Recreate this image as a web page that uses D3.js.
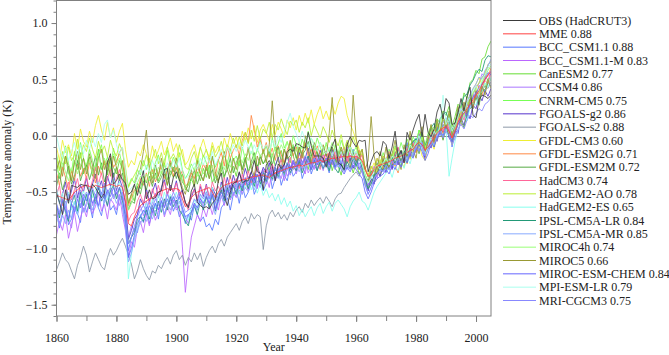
<!DOCTYPE html>
<html><head><meta charset="utf-8">
<script src="https://cdn.jsdelivr.net/npm/d3@7"></script>
<style>
body{margin:0;background:#fff;}
svg{display:block;}
</style></head>
<body><svg id="c" width="669" height="355"></svg>
<script>
const years = d3.range(1860, 2006);
const yTickValues = [-1.5, -1.0, -0.5, 0.0, 0.5, 1.0];
const xTickValues = [1860, 1880, 1900, 1920, 1940, 1960, 1980, 2000];

const obs = [
-0.51,-0.59,-0.70,-0.48,-0.60,-0.44,-0.45,-0.46,-0.43,-0.44,
-0.44,-0.51,-0.43,-0.46,-0.51,-0.55,-0.51,-0.24,-0.16,-0.43,
-0.40,-0.34,-0.39,-0.42,-0.52,-0.50,-0.43,-0.53,-0.42,-0.31,
-0.56,-0.48,-0.56,-0.55,-0.50,-0.49,-0.30,-0.29,-0.49,-0.37,
-0.32,-0.39,-0.49,-0.59,-0.64,-0.49,-0.43,-0.59,-0.62,-0.64,
-0.63,-0.65,-0.60,-0.57,-0.40,-0.33,-0.53,-0.62,-0.50,-0.42,
-0.41,-0.32,-0.42,-0.40,-0.40,-0.33,-0.22,-0.32,-0.33,-0.48,
-0.26,-0.22,-0.27,-0.40,-0.25,-0.29,-0.26,-0.14,-0.12,-0.14,
-0.07,-0.08,-0.10,-0.11,0.03,-0.09,-0.18,-0.18,-0.18,-0.20,
-0.28,-0.16,-0.09,-0.03,-0.24,-0.26,-0.30,-0.08,-0.01,-0.06,
-0.10,-0.04,-0.05,-0.04,-0.32,-0.23,-0.16,-0.14,-0.18,-0.05,
-0.08,-0.20,-0.10,0.04,-0.19,-0.13,-0.24,0.03,-0.04,0.05,
0.13,0.19,-0.01,0.19,0.03,-0.01,0.06,0.21,0.28,0.15,
0.33,0.29,0.10,0.11,0.20,0.33,0.22,0.35,0.43,0.18,
0.16,0.32,0.36,0.35,0.33,0.36];

const mme = [
-0.53,-0.54,-0.55,-0.56,-0.57,-0.54,-0.5,-0.48,-0.46,-0.45,
-0.44,-0.45,-0.46,-0.44,-0.45,-0.46,-0.45,-0.44,-0.43,-0.44,
-0.45,-0.44,-0.46,-0.58,-0.78,-0.8,-0.72,-0.66,-0.62,-0.6,
-0.58,-0.56,-0.55,-0.53,-0.5,-0.49,-0.48,-0.47,-0.48,-0.47,
-0.47,-0.48,-0.56,-0.63,-0.6,-0.55,-0.52,-0.5,-0.49,-0.48,
-0.47,-0.46,-0.5,-0.55,-0.5,-0.46,-0.44,-0.43,-0.42,-0.41,
-0.41,-0.4,-0.39,-0.39,-0.38,-0.37,-0.36,-0.36,-0.35,-0.35,
-0.36,-0.37,-0.35,-0.33,-0.32,-0.31,-0.3,-0.29,-0.28,-0.28,
-0.27,-0.26,-0.27,-0.26,-0.25,-0.24,-0.24,-0.23,-0.22,-0.23,
-0.22,-0.21,-0.2,-0.2,-0.19,-0.19,-0.18,-0.19,-0.18,-0.19,
-0.18,-0.2,-0.22,-0.3,-0.36,-0.35,-0.3,-0.27,-0.26,-0.25,
-0.24,-0.23,-0.22,-0.2,-0.19,-0.18,-0.17,-0.15,-0.13,-0.12,
-0.08,-0.06,-0.08,-0.13,-0.1,-0.06,-0.02,0.02,0.05,0.07,
0.08,0.04,-0.02,0.04,0.12,0.17,0.2,0.24,0.28,0.32,
0.36,0.4,0.45,0.5,0.54,0.57];

const bccCsm11 = [
-0.66,-0.82,-0.7,-0.61,-0.79,-0.74,-0.58,-0.69,-0.77,-0.55,
-0.68,-0.6,-0.73,-0.52,-0.64,-0.71,-0.57,-0.49,-0.66,-0.62,
-0.7,-0.55,-0.62,-0.8,-1.02,-0.9,-0.82,-0.86,-0.7,-0.77,
-0.63,-0.78,-0.69,-0.6,-0.74,-0.58,-0.7,-0.62,-0.55,-0.67,
-0.6,-0.72,-0.66,-0.78,-0.7,-0.75,-0.62,-0.7,-0.76,-0.72,
-0.81,-0.78,-0.84,-0.74,-0.79,-0.64,-0.6,-0.55,-0.66,-0.52,
-0.48,-0.6,-0.44,-0.55,-0.5,-0.38,-0.52,-0.45,-0.36,-0.49,
-0.42,-0.3,-0.47,-0.38,-0.29,-0.44,-0.35,-0.4,-0.27,-0.36,
-0.32,-0.22,-0.38,-0.3,-0.18,-0.34,-0.26,-0.31,-0.2,-0.29,
-0.24,-0.33,-0.18,-0.28,-0.14,-0.26,-0.3,-0.19,-0.23,-0.12,
-0.25,-0.17,-0.28,-0.42,-0.46,-0.33,-0.38,-0.24,-0.31,-0.2,
-0.29,-0.16,-0.25,-0.2,-0.11,-0.24,-0.18,-0.06,-0.17,-0.1,
-0.02,-0.13,-0.07,-0.19,-0.09,0.03,-0.06,0.08,0.0,0.1,
0.04,0.12,-0.1,0.03,0.14,0.1,0.22,0.15,0.28,0.24,
0.36,0.28,0.43,0.39,0.47,0.44];

const bccCsm11M = [
-0.88,-0.76,-0.84,-0.7,-0.91,-0.79,-0.68,-0.85,-0.73,-0.64,
-0.72,-0.58,-0.69,-0.63,-0.5,-0.67,-0.61,-0.74,-0.56,-0.6,
-0.66,-0.52,-0.7,-0.84,-1.08,-0.94,-0.99,-0.82,-0.76,-0.86,
-0.7,-0.8,-0.64,-0.75,-0.68,-0.58,-0.72,-0.63,-0.7,-0.57,
-0.66,-0.62,-0.98,-1.39,-1.12,-0.9,-0.8,-0.7,-0.76,-0.64,
-0.72,-0.6,-0.7,-0.58,-0.66,-0.53,-0.62,-0.48,-0.57,-0.51,
-0.55,-0.44,-0.52,-0.4,-0.49,-0.43,-0.36,-0.47,-0.34,-0.42,
-0.37,-0.46,-0.3,-0.39,-0.33,-0.26,-0.4,-0.29,-0.35,-0.24,
-0.31,-0.2,-0.28,-0.34,-0.19,-0.25,-0.3,-0.16,-0.27,-0.21,
-0.14,-0.26,-0.2,-0.12,-0.24,-0.17,-0.28,-0.1,-0.21,-0.16,
-0.22,-0.13,-0.3,-0.38,-0.44,-0.34,-0.27,-0.36,-0.22,-0.3,
-0.24,-0.17,-0.29,-0.19,-0.12,-0.23,-0.1,-0.2,-0.13,-0.05,
-0.1,0.02,-0.07,-0.15,-0.03,0.06,-0.02,0.09,0.03,0.13,
0.08,0.17,-0.03,0.06,0.12,0.23,0.17,0.28,0.24,0.36,
0.34,0.45,0.41,0.53,0.49,0.58];

const canEsm2 = [
-0.24,-0.38,-0.29,-0.18,-0.33,-0.4,-0.22,-0.3,-0.15,-0.34,
-0.26,-0.19,-0.36,-0.27,-0.12,-0.3,-0.23,-0.35,-0.2,-0.28,
-0.34,-0.22,-0.3,-0.44,-0.6,-0.52,-0.58,-0.42,-0.47,-0.36,
-0.42,-0.3,-0.38,-0.27,-0.4,-0.33,-0.24,-0.39,-0.31,-0.37,
-0.28,-0.4,-0.34,-0.48,-0.44,-0.38,-0.45,-0.32,-0.4,-0.29,
-0.37,-0.26,-0.42,-0.35,-0.4,-0.3,-0.38,-0.24,-0.33,-0.27,
-0.36,-0.22,-0.3,-0.19,-0.33,-0.26,-0.2,-0.31,-0.17,-0.25,
-0.21,-0.32,-0.16,-0.27,-0.2,-0.13,-0.26,-0.18,-0.24,-0.1,
-0.19,-0.27,-0.13,-0.22,-0.3,-0.17,-0.24,-0.12,-0.28,-0.2,
-0.25,-0.16,-0.31,-0.22,-0.27,-0.35,-0.2,-0.29,-0.23,-0.33,
-0.24,-0.34,-0.28,-0.44,-0.47,-0.39,-0.42,-0.31,-0.36,-0.26,
-0.3,-0.22,-0.28,-0.17,-0.24,-0.13,-0.2,-0.08,-0.15,-0.04,
-0.08,0.05,-0.02,-0.1,0.0,0.09,0.03,0.15,0.11,0.22,
0.18,0.26,0.08,0.17,0.28,0.24,0.38,0.33,0.47,0.5,
0.58,0.55,0.68,0.7,0.79,0.84];

const ccsm4 = [
-0.64,-0.78,-0.69,-0.58,-0.74,-0.82,-0.63,-0.7,-0.55,-0.67,
-0.6,-0.48,-0.62,-0.55,-0.44,-0.58,-0.52,-0.63,-0.46,-0.56,
-0.5,-0.62,-0.54,-0.68,-0.9,-0.8,-0.84,-0.7,-0.62,-0.71,
-0.58,-0.68,-0.6,-0.51,-0.66,-0.57,-0.63,-0.5,-0.61,-0.55,
-0.62,-0.52,-0.66,-0.72,-0.78,-0.68,-0.6,-0.66,-0.55,-0.63,
-0.52,-0.6,-0.48,-0.64,-0.55,-0.46,-0.58,-0.5,-0.44,-0.53,
-0.41,-0.52,-0.45,-0.37,-0.48,-0.4,-0.33,-0.45,-0.38,-0.3,
-0.43,-0.35,-0.28,-0.4,-0.32,-0.38,-0.26,-0.36,-0.3,-0.22,
-0.34,-0.25,-0.3,-0.21,-0.33,-0.27,-0.19,-0.29,-0.23,-0.31,
-0.2,-0.28,-0.16,-0.25,-0.21,-0.13,-0.27,-0.22,-0.17,-0.24,
-0.18,-0.27,-0.33,-0.41,-0.44,-0.36,-0.3,-0.38,-0.25,-0.29,
-0.22,-0.3,-0.19,-0.25,-0.14,-0.22,-0.15,-0.09,-0.18,-0.06,
-0.07,0.01,-0.05,-0.13,-0.02,0.06,-0.01,0.1,0.06,0.14,
0.1,0.16,0.0,0.11,0.2,0.17,0.29,0.26,0.37,0.35,
0.44,0.46,0.55,0.52,0.63,0.66];

const cnrmCm5 = [
-0.16,-0.3,-0.21,-0.09,-0.25,-0.33,-0.14,-0.24,-0.06,-0.2,
-0.28,-0.12,-0.22,-0.31,-0.16,-0.08,-0.26,-0.19,-0.3,-0.11,
-0.23,-0.15,-0.27,-0.36,-0.45,-0.38,-0.42,-0.3,-0.35,-0.22,
-0.3,-0.2,-0.34,-0.24,-0.17,-0.3,-0.22,-0.13,-0.28,-0.19,
-0.26,-0.15,-0.3,-0.38,-0.33,-0.25,-0.31,-0.2,-0.28,-0.17,
-0.24,-0.33,-0.19,-0.28,-0.21,-0.3,-0.16,-0.25,-0.12,-0.22,
-0.18,-0.27,-0.1,-0.21,-0.15,-0.06,-0.2,-0.13,-0.04,-0.16,
-0.09,-0.19,-0.02,-0.14,-0.07,0.02,-0.11,-0.05,-0.15,0.0,
-0.08,-0.16,-0.03,-0.11,0.04,-0.07,-0.13,-0.02,-0.1,-0.18,
-0.06,-0.14,-0.22,-0.08,-0.16,-0.04,-0.12,-0.2,-0.09,-0.15,
-0.1,-0.2,-0.16,-0.3,-0.37,-0.27,-0.32,-0.21,-0.26,-0.15,
-0.23,-0.12,-0.19,-0.09,-0.17,-0.06,-0.14,-0.03,-0.11,-0.01,
-0.06,0.05,-0.03,-0.08,0.02,0.08,-0.01,0.12,0.05,0.16,
0.12,0.19,0.02,0.08,0.17,0.13,0.26,0.21,0.33,0.28,
0.4,0.36,0.47,0.43,0.51,0.5];

const fgoalsG2 = [
-0.47,-0.6,-0.52,-0.41,-0.58,-0.49,-0.38,-0.55,-0.44,-0.5,
-0.37,-0.52,-0.43,-0.34,-0.48,-0.4,-0.53,-0.36,-0.45,-0.33,
-0.49,-0.38,-0.46,-0.6,-0.92,-0.84,-0.74,-0.7,-0.56,-0.62,
-0.47,-0.58,-0.5,-0.42,-0.55,-0.46,-0.39,-0.52,-0.44,-0.5,
-0.4,-0.53,-0.48,-0.6,-0.63,-0.55,-0.47,-0.58,-0.45,-0.54,
-0.43,-0.56,-0.46,-0.52,-0.58,-0.41,-0.5,-0.37,-0.48,-0.35,
-0.44,-0.33,-0.41,-0.29,-0.38,-0.32,-0.4,-0.26,-0.36,-0.28,
-0.33,-0.24,-0.36,-0.27,-0.19,-0.32,-0.25,-0.17,-0.3,-0.22,
-0.27,-0.15,-0.24,-0.2,-0.11,-0.26,-0.18,-0.23,-0.13,-0.21,
-0.16,-0.25,-0.12,-0.22,-0.18,-0.27,-0.14,-0.24,-0.2,-0.29,
-0.21,-0.3,-0.25,-0.4,-0.49,-0.38,-0.43,-0.3,-0.36,-0.26,
-0.33,-0.22,-0.3,-0.17,-0.26,-0.14,-0.24,-0.12,-0.2,-0.08,
-0.14,-0.03,-0.1,-0.2,-0.06,-0.11,0.02,-0.05,0.07,0.03,
0.1,-0.02,-0.06,0.05,0.02,0.16,0.09,0.22,0.15,0.27,
0.24,0.36,0.31,0.4,0.35,0.42];

const fgoalsS2 = [
-1.19,-1.12,-1.04,-1.1,-1.13,-1.2,-1.27,-1.15,-1.08,-0.98,
-1.06,-1.21,-1.12,-1.04,-1.1,-1.16,-1.19,-1.08,-1.0,-1.06,
-1.02,-0.96,-0.91,-0.98,-1.06,-1.14,-1.27,-1.2,-1.1,-1.18,
-1.24,-1.28,-1.2,-1.22,-1.15,-1.18,-1.12,-1.08,-1.14,-1.06,
-1.02,-1.1,-1.06,-1.15,-1.08,-1.12,-1.04,-1.1,-1.04,-1.16,
-1.08,-1.02,-0.98,-1.04,-0.96,-0.92,-0.98,-0.9,-0.86,-0.82,
-0.78,-0.84,-0.76,-0.72,-0.78,-0.69,-0.74,-0.7,-0.72,-1.01,
-0.8,-0.7,-0.66,-0.72,-0.68,-0.74,-0.7,-0.75,-0.68,-0.72,
-0.66,-0.63,-0.68,-0.6,-0.64,-0.57,-0.62,-0.58,-0.55,-0.6,
-0.54,-0.58,-0.63,-0.56,-0.52,-0.51,-0.46,-0.42,-0.38,-0.35,
-0.32,-0.36,-0.3,-0.4,-0.46,-0.42,-0.36,-0.3,-0.33,-0.28,
-0.26,-0.3,-0.22,-0.26,-0.18,-0.22,-0.16,-0.2,-0.12,-0.16,
-0.1,-0.04,-0.08,-0.14,-0.1,-0.02,0.02,-0.04,0.06,0.1,
0.06,0.12,0.04,0.08,0.16,0.2,0.24,0.2,0.3,0.34,
0.36,0.32,0.4,0.44,0.42,0.48];

const gfdlCm3 = [
-0.1,-0.22,-0.04,-0.15,-0.08,-0.18,0.02,-0.12,0.06,-0.05,
-0.1,0.04,-0.06,0.09,0.18,0.05,-0.04,0.12,-0.02,0.07,
-0.06,0.04,0.11,-0.12,-0.28,-0.22,-0.26,-0.14,-0.18,-0.08,
-0.16,-0.24,-0.09,-0.2,-0.13,-0.05,-0.17,-0.1,-0.02,-0.14,
-0.07,-0.19,-0.12,-0.26,-0.22,-0.14,-0.08,-0.2,-0.11,-0.03,
-0.13,-0.19,-0.06,-0.15,-0.09,-0.17,-0.02,-0.11,0.02,-0.07,
-0.01,-0.12,0.04,-0.05,0.07,-0.03,0.09,-0.06,0.05,0.1,
0.03,-0.05,0.1,0.01,0.12,0.06,-0.02,0.14,0.07,0.16,
0.05,0.18,0.09,0.2,0.11,0.23,0.1,0.19,0.26,0.15,
0.22,0.14,0.27,0.19,0.29,0.35,0.33,0.18,0.1,0.04,
-0.04,-0.12,-0.18,-0.28,-0.36,-0.3,-0.24,-0.33,-0.21,-0.29,
-0.25,-0.3,-0.18,-0.27,-0.16,-0.23,-0.28,-0.14,-0.21,-0.12,
-0.15,-0.08,-0.18,-0.22,-0.1,-0.05,-0.12,0.0,0.05,-0.03,
0.08,0.02,-0.08,0.04,0.14,0.2,0.17,0.29,0.35,0.41,
0.46,0.52,0.45,0.57,0.61,0.58];

const gfdlEsm2g = [
-0.33,-0.44,-0.28,-0.37,-0.48,-0.31,-0.4,-0.25,-0.36,-0.29,
-0.38,-0.24,-0.33,-0.42,-0.27,-0.35,-0.22,-0.31,-0.18,-0.28,
-0.24,-0.15,-0.1,-0.38,-0.62,-0.55,-0.48,-0.5,-0.38,-0.44,
-0.33,-0.45,-0.3,-0.41,-0.35,-0.26,-0.38,-0.3,-0.22,-0.36,
-0.27,-0.37,-0.31,-0.45,-0.42,-0.33,-0.38,-0.28,-0.34,-0.25,
-0.31,-0.2,-0.28,-0.36,-0.22,-0.15,-0.27,-0.1,-0.2,-0.13,
-0.08,-0.17,-0.04,0.03,-0.06,0.18,0.05,-0.1,-0.01,-0.15,
-0.06,-0.19,-0.11,-0.22,-0.09,-0.17,-0.24,-0.13,-0.05,-0.18,
-0.1,-0.22,-0.15,-0.06,-0.18,-0.12,-0.21,-0.09,-0.16,-0.24,
-0.14,-0.2,-0.1,-0.17,-0.26,-0.13,-0.22,-0.18,-0.28,-0.16,
-0.22,-0.13,-0.27,-0.37,-0.42,-0.34,-0.29,-0.35,-0.24,-0.31,
-0.21,-0.3,-0.18,-0.27,-0.33,-0.2,-0.15,-0.25,-0.12,-0.07,
-0.15,-0.04,-0.11,-0.17,-0.06,0.03,-0.07,0.08,0.12,0.01,
0.14,0.04,-0.02,0.1,0.18,0.09,0.24,0.3,0.36,0.27,
0.38,0.44,0.36,0.5,0.53,0.6];

const gfdlEsm2m = [
-0.45,-0.33,-0.48,-0.39,-0.27,-0.43,-0.36,-0.22,-0.4,-0.31,
-0.26,-0.39,-0.3,-0.18,-0.35,-0.24,-0.41,-0.32,-0.2,-0.37,
-0.28,-0.4,-0.33,-0.5,-0.66,-0.58,-0.6,-0.45,-0.52,-0.4,
-0.48,-0.36,-0.45,-0.33,-0.42,-0.37,-0.3,-0.44,-0.35,-0.28,
-0.38,-0.29,-0.41,-0.45,-0.5,-0.37,-0.31,-0.43,-0.34,-0.4,
-0.28,-0.38,-0.3,-0.42,-0.34,-0.24,-0.36,-0.3,-0.2,-0.33,
-0.24,-0.17,-0.3,-0.2,-0.32,-0.23,-0.15,-0.28,-0.19,-0.25,
-0.19,-0.13,-0.26,-0.16,-0.1,-0.23,-0.12,-0.2,-0.18,-0.08,
-0.2,-0.1,-0.17,-0.13,-0.05,-0.18,-0.08,-0.15,-0.22,-0.11,
-0.17,-0.23,-0.1,-0.2,-0.26,-0.13,-0.19,-0.12,-0.24,-0.15,
-0.25,-0.16,-0.28,-0.35,-0.4,-0.31,-0.36,-0.25,-0.3,-0.21,
-0.28,-0.18,-0.26,-0.14,-0.22,-0.27,-0.16,-0.24,-0.11,-0.19,
-0.08,-0.16,-0.04,-0.14,-0.12,-0.02,-0.1,0.03,0.06,-0.04,
0.08,0.0,-0.05,0.03,0.1,0.13,0.07,0.2,0.24,0.26,
0.34,0.27,0.4,0.41,0.47,0.5];

const hadCm3 = [
-0.53,-0.44,-0.62,-0.5,-0.41,-0.57,-0.48,-0.38,-0.52,-0.45,
-0.36,-0.49,-0.4,-0.28,-0.43,-0.33,-0.46,-0.38,-0.3,-0.44,
-0.38,-0.3,-0.41,-0.5,-0.76,-0.7,-0.68,-0.58,-0.52,-0.6,
-0.5,-0.61,-0.47,-0.55,-0.44,-0.54,-0.41,-0.52,-0.45,-0.5,
-0.42,-0.53,-0.5,-0.6,-0.66,-0.52,-0.48,-0.56,-0.43,-0.52,
-0.44,-0.55,-0.41,-0.49,-0.45,-0.51,-0.37,-0.48,-0.36,-0.46,
-0.38,-0.47,-0.34,-0.44,-0.31,-0.42,-0.35,-0.27,-0.4,-0.33,
-0.3,-0.38,-0.25,-0.34,-0.29,-0.21,-0.33,-0.27,-0.19,-0.3,
-0.23,-0.29,-0.16,-0.25,-0.2,-0.28,-0.13,-0.24,-0.3,-0.17,
-0.21,-0.15,-0.26,-0.12,-0.23,-0.17,-0.1,-0.24,-0.14,-0.2,
-0.15,-0.22,-0.17,-0.29,-0.36,-0.28,-0.3,-0.2,-0.27,-0.18,
-0.21,-0.14,-0.25,-0.17,-0.1,-0.2,-0.24,-0.11,-0.16,-0.07,
-0.1,-0.02,-0.09,-0.14,0.0,-0.05,0.05,0.01,0.12,0.04,
0.14,0.06,0.0,0.09,0.15,0.22,0.14,0.28,0.3,0.26,
0.39,0.37,0.46,0.49,0.46,0.56];

const hadGem2Ao = [
-0.2,-0.31,-0.14,-0.25,-0.1,-0.22,-0.17,-0.03,-0.2,-0.08,
-0.14,-0.02,-0.12,-0.2,-0.05,-0.15,-0.09,-0.19,-0.04,-0.13,
-0.18,-0.07,-0.14,-0.28,-0.46,-0.4,-0.35,-0.3,-0.22,-0.27,
-0.17,-0.28,-0.2,-0.12,-0.25,-0.15,-0.27,-0.1,-0.21,-0.16,
-0.22,-0.08,-0.18,-0.28,-0.3,-0.2,-0.14,-0.25,-0.1,-0.19,
-0.12,-0.22,-0.09,-0.19,-0.14,-0.05,-0.17,-0.08,-0.13,-0.02,
-0.11,-0.01,-0.09,0.03,-0.07,0.05,-0.05,0.09,-0.03,0.06,
0.02,0.12,-0.02,0.1,0.05,0.15,0.07,0.01,0.13,0.09,
0.14,0.03,0.12,0.07,0.16,0.0,0.1,0.04,-0.02,0.08,
0.02,-0.06,0.05,-0.03,-0.09,0.01,-0.12,-0.04,-0.1,-0.01,
-0.09,-0.16,-0.12,-0.3,-0.35,-0.27,-0.31,-0.2,-0.26,-0.18,
-0.23,-0.15,-0.2,-0.11,-0.18,-0.24,-0.12,-0.17,-0.07,-0.13,
-0.04,-0.1,0.0,-0.12,-0.03,0.05,0.02,0.1,0.04,0.14,
0.09,0.16,0.03,0.12,0.2,0.15,0.26,0.31,0.27,0.38,
0.42,0.47,0.52,0.55,0.63,0.66];

const hadGem2Es = [
-0.47,-0.6,-0.51,-0.63,-0.5,-0.66,-0.58,-0.7,-0.55,-0.49,
-0.58,-0.45,-0.55,-0.49,-0.41,-0.54,-0.44,-0.57,-0.47,-0.38,
-0.46,-0.41,-0.52,-0.68,-1.27,-1.05,-0.9,-0.82,-0.7,-0.68,
-0.6,-0.7,-0.56,-0.65,-0.53,-0.62,-0.5,-0.59,-0.52,-0.57,
-0.5,-0.6,-0.64,-0.72,-0.75,-0.63,-0.57,-0.65,-0.52,-0.6,
-0.49,-0.57,-0.46,-0.61,-0.53,-0.44,-0.55,-0.42,-0.51,-0.45,
-0.42,-0.52,-0.4,-0.47,-0.38,-0.48,-0.41,-0.51,-0.43,-0.53,
-0.47,-0.55,-0.51,-0.58,-0.52,-0.61,-0.55,-0.63,-0.58,-0.67,
-0.62,-0.71,-0.65,-0.72,-0.67,-0.63,-0.71,-0.64,-0.6,-0.69,
-0.63,-0.59,-0.67,-0.6,-0.57,-0.61,-0.65,-0.72,-0.63,-0.58,
-0.55,-0.5,-0.58,-0.6,-0.66,-0.58,-0.5,-0.45,-0.41,-0.37,
-0.33,-0.29,-0.37,-0.27,-0.31,-0.23,-0.29,-0.19,-0.25,-0.15,
-0.11,-0.05,-0.12,-0.17,-0.1,-0.03,-0.09,0.01,0.05,0.0,
0.07,-0.36,-0.2,-0.05,0.06,0.11,0.19,0.13,0.25,0.29,
0.27,0.37,0.39,0.47,0.43,0.52];

const ipslCm5aLr = [
-0.61,-0.73,-0.57,-0.68,-0.76,-0.6,-0.53,-0.67,-0.5,-0.62,
-0.52,-0.65,-0.48,-0.6,-0.45,-0.58,-0.53,-0.62,-0.49,-0.44,
-0.56,-0.46,-0.58,-0.7,-0.96,-0.9,-0.86,-0.74,-0.72,-0.76,
-0.66,-0.74,-0.62,-0.71,-0.58,-0.68,-0.56,-0.66,-0.54,-0.63,
-0.57,-0.66,-0.7,-0.76,-0.8,-0.68,-0.62,-0.7,-0.58,-0.66,
-0.54,-0.64,-0.52,-0.67,-0.57,-0.48,-0.58,-0.46,-0.55,-0.44,
-0.52,-0.42,-0.49,-0.38,-0.47,-0.36,-0.45,-0.34,-0.43,-0.32,
-0.41,-0.32,-0.39,-0.28,-0.37,-0.26,-0.35,-0.24,-0.33,-0.27,
-0.31,-0.22,-0.33,-0.25,-0.18,-0.3,-0.21,-0.31,-0.23,-0.29,
-0.22,-0.31,-0.21,-0.29,-0.33,-0.25,-0.31,-0.23,-0.29,-0.2,
-0.27,-0.19,-0.29,-0.38,-0.47,-0.43,-0.35,-0.33,-0.27,-0.31,
-0.23,-0.29,-0.19,-0.25,-0.15,-0.23,-0.13,-0.19,-0.09,-0.05,
-0.03,-0.09,0.03,-0.09,-0.03,0.07,0.11,0.03,0.15,0.19,
0.21,0.13,0.05,0.11,0.23,0.27,0.35,0.37,0.45,0.49,
0.55,0.59,0.57,0.67,0.71,0.7];

const ipslCm5aMr = [
-0.72,-0.8,-0.7,-0.78,-0.66,-0.74,-0.64,-0.7,-0.6,-0.68,
-0.62,-0.56,-0.66,-0.58,-0.64,-0.54,-0.6,-0.5,-0.58,-0.52,
-0.6,-0.54,-0.62,-0.8,-1.12,-1.04,-0.92,-0.84,-0.78,-0.72,
-0.76,-0.68,-0.74,-0.66,-0.72,-0.62,-0.7,-0.6,-0.66,-0.58,
-0.64,-0.58,-0.66,-0.74,-0.72,-0.7,-0.62,-0.66,-0.58,-0.64,
-0.6,-0.54,-0.62,-0.7,-0.6,-0.54,-0.6,-0.52,-0.56,-0.5,
-0.54,-0.48,-0.52,-0.46,-0.5,-0.42,-0.48,-0.4,-0.46,-0.38,
-0.42,-0.36,-0.4,-0.34,-0.38,-0.3,-0.36,-0.28,-0.34,-0.3,
-0.26,-0.32,-0.24,-0.3,-0.22,-0.28,-0.2,-0.26,-0.22,-0.28,
-0.22,-0.26,-0.2,-0.24,-0.28,-0.22,-0.26,-0.3,-0.24,-0.2,
-0.24,-0.28,-0.32,-0.42,-0.52,-0.46,-0.38,-0.34,-0.3,-0.32,
-0.26,-0.3,-0.22,-0.26,-0.2,-0.24,-0.16,-0.2,-0.12,-0.16,
-0.08,-0.02,-0.1,-0.18,-0.08,0.0,0.04,-0.02,0.08,0.12,
0.16,0.1,0.0,0.08,0.18,0.24,0.2,0.3,0.36,0.42,
0.46,0.52,0.5,0.58,0.62,0.68];

const miroc4h = [
-0.28,-0.36,-0.24,-0.32,-0.4,-0.3,-0.22,-0.34,-0.26,-0.2,
-0.3,-0.22,-0.34,-0.26,-0.18,-0.28,-0.2,-0.3,-0.24,-0.16,
-0.26,-0.2,-0.28,-0.44,-0.66,-0.6,-0.5,-0.42,-0.36,-0.4,
-0.34,-0.4,-0.32,-0.38,-0.28,-0.34,-0.26,-0.32,-0.24,-0.3,
-0.26,-0.32,-0.4,-0.45,-0.42,-0.4,-0.32,-0.36,-0.28,-0.34,
-0.28,-0.34,-0.26,-0.38,-0.3,-0.24,-0.3,-0.22,-0.28,-0.2,
-0.26,-0.18,-0.24,-0.16,-0.22,-0.14,-0.2,-0.12,-0.18,-0.14,
-0.2,-0.12,-0.18,-0.1,-0.16,-0.08,-0.14,-0.06,-0.12,-0.08,
-0.14,-0.06,-0.12,-0.04,-0.1,-0.02,-0.08,-0.14,-0.06,-0.12,
-0.08,-0.14,-0.06,-0.12,-0.18,-0.1,-0.16,-0.08,-0.14,-0.2,
-0.14,-0.2,-0.24,-0.34,-0.42,-0.36,-0.3,-0.26,-0.22,-0.26,
-0.2,-0.24,-0.16,-0.2,-0.14,-0.18,-0.12,-0.16,-0.08,-0.12,
-0.04,-0.08,0.0,-0.1,-0.04,0.04,0.08,0.02,0.1,0.06,
0.14,0.1,0.02,0.08,0.16,0.22,0.18,0.28,0.32,0.38,
0.42,0.38,0.48,0.52,0.58,0.62];

const miroc5 = [
-0.3,-0.22,-0.36,-0.18,-0.28,-0.4,-0.24,-0.14,-0.3,-0.2,
-0.34,-0.16,-0.26,-0.38,-0.2,-0.12,-0.3,-0.22,-0.36,-0.18,
-0.28,-0.38,-0.22,-0.42,-0.6,-0.52,-0.44,-0.36,-0.3,-0.14,
0.05,-0.3,-0.42,-0.26,-0.36,-0.2,-0.34,-0.44,-0.24,-0.32,
-0.2,-0.36,-0.46,-0.52,-0.4,-0.3,-0.44,-0.22,-0.34,-0.4,
-0.26,-0.38,-0.18,-0.32,-0.42,-0.24,-0.14,-0.3,-0.38,-0.2,
-0.3,-0.16,-0.34,-0.24,-0.1,-0.28,-0.36,-0.18,-0.26,-0.12,
-0.24,-0.08,0.31,-0.06,-0.22,-0.3,-0.12,-0.2,-0.04,-0.18,
-0.26,-0.1,-0.2,0.0,-0.14,-0.24,-0.06,-0.16,-0.22,-0.08,
-0.18,0.02,0.34,-0.04,-0.2,-0.1,-0.22,-0.06,-0.14,0.36,
-0.02,-0.2,-0.12,-0.3,-0.22,0.17,-0.18,-0.3,-0.14,-0.24,
-0.1,-0.28,-0.16,-0.04,-0.22,-0.3,-0.08,-0.18,0.04,-0.12,
-0.2,-0.02,0.08,-0.16,-0.04,0.1,-0.06,0.14,0.02,0.18,
0.06,0.22,0.0,0.1,0.26,0.12,0.3,0.18,0.34,0.24,
0.4,0.3,0.44,0.36,0.5,0.42];

const mirocEsmChem = [
-0.62,-0.7,-0.56,-0.66,-0.74,-0.6,-0.68,-0.56,-0.64,-0.52,
-0.58,-0.5,-0.6,-0.54,-0.62,-0.5,-0.56,-0.48,-0.54,-0.46,
-0.52,-0.46,-0.54,-0.74,-1.08,-1.0,-0.88,-0.78,-0.72,-0.66,
-0.7,-0.62,-0.68,-0.6,-0.66,-0.58,-0.64,-0.56,-0.62,-0.54,
-0.6,-0.54,-0.64,-0.72,-0.7,-0.68,-0.6,-0.64,-0.56,-0.6,
-0.54,-0.6,-0.52,-0.66,-0.58,-0.5,-0.56,-0.48,-0.52,-0.44,
-0.48,-0.42,-0.46,-0.4,-0.44,-0.36,-0.42,-0.34,-0.4,-0.36,
-0.38,-0.32,-0.36,-0.3,-0.34,-0.28,-0.32,-0.26,-0.3,-0.24,
-0.28,-0.22,-0.26,-0.2,-0.24,-0.3,-0.22,-0.26,-0.2,-0.24,
-0.2,-0.26,-0.22,-0.28,-0.24,-0.3,-0.34,-0.28,-0.32,-0.26,
-0.3,-0.34,-0.38,-0.5,-0.56,-0.5,-0.42,-0.38,-0.36,-0.34,
-0.3,-0.34,-0.26,-0.3,-0.22,-0.28,-0.2,-0.24,-0.16,-0.2,
-0.12,-0.08,-0.14,-0.22,-0.16,-0.06,-0.1,-0.02,0.04,0.0,
0.08,0.04,-0.06,0.02,0.1,0.16,0.22,0.18,0.28,0.34,
0.38,0.42,0.46,0.5,0.56,0.54];

const mpiEsmLr = [
0.0,-0.12,-0.2,-0.1,-0.22,-0.14,-0.06,-0.18,-0.08,-0.16,
-0.04,-0.12,-0.02,-0.1,0.02,-0.06,0.1,0.14,-0.02,0.05,
-0.08,-0.16,-0.1,-0.3,-0.5,-0.46,-0.44,-0.38,-0.3,-0.34,
-0.26,-0.32,-0.22,-0.3,-0.2,-0.26,-0.34,-0.24,-0.3,-0.22,
-0.28,-0.2,-0.32,-0.38,-0.36,-0.3,-0.24,-0.3,-0.2,-0.26,
-0.18,-0.24,-0.14,-0.26,-0.2,-0.12,-0.18,-0.1,-0.16,-0.08,
-0.14,-0.06,-0.12,-0.04,-0.1,-0.16,-0.08,-0.14,-0.06,-0.12,
-0.08,-0.14,-0.04,-0.1,0.0,-0.06,0.04,0.12,0.2,0.08,
0.02,-0.06,0.04,-0.04,-0.1,-0.02,-0.08,-0.14,-0.06,-0.12,
-0.16,-0.1,-0.18,-0.12,-0.2,-0.14,-0.22,-0.16,-0.1,-0.18,
-0.14,-0.2,-0.26,-0.36,-0.42,-0.38,-0.3,-0.26,-0.3,-0.24,
-0.2,-0.26,-0.18,-0.22,-0.14,-0.2,-0.12,-0.16,-0.08,-0.12,
-0.06,0.0,-0.08,-0.16,-0.1,-0.02,0.04,0.0,0.08,0.36,
0.1,0.16,0.04,0.1,0.18,0.24,0.2,0.3,0.34,0.4,
0.44,0.4,0.5,0.54,0.6,0.64];

const mriCgcm3 = [
-0.6,-0.68,-0.56,-0.64,-0.52,-0.6,-0.5,-0.58,-0.48,-0.56,
-0.5,-0.58,-0.46,-0.54,-0.44,-0.52,-0.42,-0.5,-0.46,-0.54,
-0.48,-0.56,-0.5,-0.68,-0.96,-0.9,-0.8,-0.72,-0.66,-0.62,
-0.66,-0.58,-0.64,-0.56,-0.62,-0.54,-0.6,-0.52,-0.58,-0.5,
-0.56,-0.5,-0.6,-0.68,-0.66,-0.64,-0.56,-0.6,-0.52,-0.56,
-0.5,-0.56,-0.48,-0.6,-0.52,-0.46,-0.52,-0.44,-0.5,-0.42,
-0.46,-0.4,-0.44,-0.38,-0.42,-0.36,-0.4,-0.34,-0.38,-0.32,
-0.36,-0.3,-0.34,-0.28,-0.32,-0.26,-0.3,-0.24,-0.28,-0.22,
-0.26,-0.2,-0.24,-0.18,-0.22,-0.28,-0.2,-0.24,-0.18,-0.22,
-0.26,-0.2,-0.24,-0.3,-0.22,-0.28,-0.32,-0.26,-0.3,-0.24,
-0.28,-0.24,-0.3,-0.44,-0.52,-0.46,-0.38,-0.34,-0.3,-0.32,
-0.26,-0.3,-0.22,-0.26,-0.2,-0.24,-0.18,-0.22,-0.14,-0.18,
-0.1,-0.14,-0.06,-0.18,-0.12,-0.04,-0.08,0.0,0.04,-0.02,
0.04,0.0,-0.08,-0.02,0.06,0.1,0.06,0.14,0.18,0.16,
0.2,0.24,0.22,0.28,0.3,0.34];

const seriesNames = ["OBS (HadCRUT3)","MME","BCC_CSM1.1","BCC_CSM1.1-M","CanESM2","CCSM4","CNRM-CM5",
  "FGOALS-g2","FGOALS-s2","GFDL-CM3","GFDL-ESM2G","GFDL-ESM2M","HadCM3","HadGEM2-AO","HadGEM2-ES",
  "IPSL-CM5A-LR","IPSL-CM5A-MR","MIROC4h","MIROC5","MIROC-ESM-CHEM","MPI-ESM-LR","MRI-CGCM3"];
const correlations = [null,"0.88","0.88","0.83","0.77","0.86","0.75","0.86","0.88","0.60","0.71","0.72",
  "0.74","0.78","0.65","0.84","0.85","0.74","0.66","0.84","0.79","0.75"];
const seriesValues = [obs, mme, bccCsm11, bccCsm11M, canEsm2, ccsm4, cnrmCm5, fgoalsG2, fgoalsS2, gfdlCm3,
  gfdlEsm2g, gfdlEsm2m, hadCm3, hadGem2Ao, hadGem2Es, ipslCm5aLr, ipslCm5aMr, miroc4h, miroc5,
  mirocEsmChem, mpiEsmLr, mriCgcm3];
const seriesColors = ["#3a3a3a","#ff4040","#5577ff","#bb66ff","#66dd33","#aa77ff","#77ff55","#5533cc",
  "#8c98a8","#eeee33","#ff8844","#55aa44","#ff6699","#bbee33","#88ffee","#229977","#88aaff","#99ff77",
  "#999933","#6666ff","#aaffee","#8888ff"];

const FONT = '"Liberation Serif","Times New Roman",Times,serif';
const svg = d3.select("#c");
const plot = {left: 56.5, right: 491, top: 0.5, bottom: 316};

const x = d3.scaleLinear().domain([1860, 2005]).range([plot.left, plot.right]);
const y = d3.scaleLinear().domain([-1.6, 1.2]).range([plot.bottom, plot.top]);

const axisColor = "#808080";
const textColor = "#222";

svg.append("defs").append("clipPath").attr("id","clip")
  .append("rect").attr("x", plot.left).attr("y", plot.top)
  .attr("width", plot.right - plot.left).attr("height", plot.bottom - plot.top);

svg.append("line")
  .attr("x1", plot.left).attr("x2", plot.right)
  .attr("y1", Math.round(y(0)) + 0.5).attr("y2", Math.round(y(0)) + 0.5)
  .attr("stroke", "#8a8a8a").attr("stroke-width", 1);

const series = seriesNames.map((n, i) => ({
  name: n, label: correlations[i] ? n + " " + correlations[i] : n,
  values: seriesValues[i], color: seriesColors[i]
}));

const line = d3.line()
  .defined(d => d != null)
  .x((d, i) => x(years[i]))
  .y(d => y(d));

const g = svg.append("g").attr("clip-path", "url(#clip)");
const drawOrder = series.slice(2).concat([series[1], series[0]]);
g.selectAll("path.s").data(drawOrder).join("path")
  .attr("class","s")
  .attr("d", d => line(d.values))
  .attr("fill","none")
  .attr("stroke", d => d.color)
  .attr("stroke-width", 0.85)
  .attr("stroke-linejoin","round");

svg.append("rect")
  .attr("x", plot.left).attr("y", plot.top)
  .attr("width", plot.right - plot.left).attr("height", plot.bottom - plot.top)
  .attr("fill","none").attr("stroke", axisColor).attr("stroke-width", 1);

const yMinor = d3.range(-16, 13).map(v => v / 10);
const yMinorAxis = svg.append("g").attr("transform", `translate(${plot.left},0)`)
  .call(d3.axisLeft(y).tickValues(yMinor).tickSize(3).tickFormat(""));
yMinorAxis.select(".domain").remove();
yMinorAxis.selectAll("line").attr("stroke", axisColor);

const yAxis = svg.append("g").attr("transform", `translate(${plot.left},0)`)
  .call(d3.axisLeft(y).tickValues(yTickValues).tickSize(5).tickPadding(4).tickFormat(d3.format(".1f")));
yAxis.attr("font-family", FONT).attr("font-size", 12);
yAxis.select(".domain").remove();
yAxis.selectAll("line").attr("stroke", axisColor);
yAxis.selectAll("text").attr("fill", textColor);

const xMinor = d3.range(1860, 2006, 10);
const xMinorAxis = svg.append("g").attr("transform", `translate(0,${plot.bottom})`)
  .call(d3.axisBottom(x).tickValues(xMinor).tickSize(5).tickFormat(""));
xMinorAxis.select(".domain").remove();
xMinorAxis.selectAll("line").attr("stroke", axisColor);

const xAxis = svg.append("g").attr("transform", `translate(0,${plot.bottom})`)
  .call(d3.axisBottom(x).tickValues(xTickValues).tickSize(6).tickPadding(11).tickFormat(d3.format("d")));
xAxis.attr("font-family", FONT).attr("font-size", 12);
xAxis.select(".domain").remove();
xAxis.selectAll("line").attr("stroke", axisColor);
xAxis.selectAll("text").attr("fill", textColor);

svg.append("text").attr("x", (plot.left + plot.right) / 2).attr("y", 350.5)
  .attr("text-anchor","middle").attr("fill", textColor)
  .attr("font-family", FONT).attr("font-size", 12).text("Year");
svg.append("text").attr("transform", `translate(11,${(plot.top + plot.bottom) / 2 + 4}) rotate(-90)`)
  .attr("text-anchor","middle").attr("fill", textColor)
  .attr("font-family", FONT).attr("font-size", 12)
  .text("Temperature anomaly (K)");

const leg = svg.append("g").attr("font-family", FONT).attr("font-size", 12);
const legY = d3.scaleLinear().domain([0, series.length - 1]).range([20, 300]);
const items = leg.selectAll("g").data(series).join("g")
  .attr("transform", (d, i) => `translate(0,${legY(i)})`);
items.append("line").attr("x1", 503).attr("x2", 536).attr("y1", 0.5).attr("y2", 0.5)
  .attr("stroke", d => d.color).attr("stroke-width", 1);
items.append("text").attr("x", 539).attr("y", 4.5)
  .attr("fill", textColor).text(d => d.label);

seriesValues.forEach((v, i) => { if (v.length !== years.length) console.error(seriesNames[i] + " length " + v.length); });
</script></body></html>
